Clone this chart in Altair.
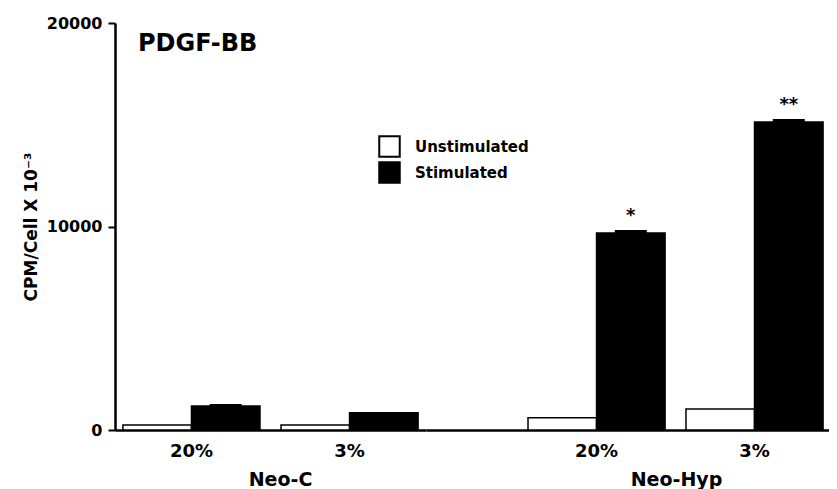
import altair as alt
import pandas as pd

# ---- data ----
groups = ["Neo-C", "Neo-C", "Neo-Hyp", "Neo-Hyp"]
oxygen = ["20%", "3%", "20%", "3%"]
unstimulated = [250, 250, 600, 1030]
stimulated = [1180, 850, 9680, 15130]
stimulated_err = [100, 0, 150, 150]
significance = ["", "", "*", "**"]
treatments = ["Unstimulated", "Stimulated"]
y_ticks = [0, 10000, 20000]
panel_title = "PDGF-BB"
y_title = "CPM/Cell X 10⁻³"

rows = []
for g, o, u, s, e, sig in zip(groups, oxygen, unstimulated, stimulated,
                              stimulated_err, significance):
    rows.append({"group": g, "oxygen": o, "treatment": "Unstimulated",
                 "value": u, "err": 0, "sig": ""})
    rows.append({"group": g, "oxygen": o, "treatment": "Stimulated",
                 "value": s, "err": e, "sig": sig})
df = pd.DataFrame(rows)

FONT = "DejaVu Sans"

color = alt.Color(
    "treatment:N",
    scale=alt.Scale(domain=treatments, range=["white", "black"]),
    legend=alt.Legend(
        title=None, orient="none", legendX=263, legendY=112,
        symbolType="square", symbolSize=420, symbolStrokeColor="black",
        symbolStrokeWidth=2, labelFont=FONT, labelFontSize=15,
        labelFontWeight="bold", labelColor="black", rowPadding=-6,
        labelOffset=14, padding=0,
    ),
)

yscale = alt.Scale(domain=[0, 20000], nice=False, zero=True)


def panel(group, width, pad_outer, align, title_x, show_y):
    d = df[df.group == group]
    xaxis = alt.Axis(
        title=group, titleX=title_x, labelAngle=0, ticks=False, tickSize=0,
        labelPadding=12, labelFont=FONT, labelFontSize=18,
        labelFontWeight="bold", labelColor="black", titleFont=FONT,
        titleFontSize=19, titleFontWeight="bold", titleColor="black",
        titlePadding=10, domainColor="black", domainWidth=2.5,
    )
    x = alt.X("oxygen:N",
              scale=alt.Scale(domain=["20%", "3%"], paddingInner=0.133,
                              paddingOuter=pad_outer, align=align),
              axis=xaxis)
    xoff = alt.XOffset("treatment:N",
                       scale=alt.Scale(domain=treatments, paddingInner=0,
                                       paddingOuter=0))
    if show_y:
        yaxis = alt.Axis(
            values=y_ticks, format="d", grid=False, tickSize=7, tickWidth=2,
            tickColor="black", domainColor="black", domainWidth=2.5,
            labelPadding=6, labelFont=FONT, labelFontSize=16,
            labelFontWeight="bold", labelColor="black", labelFlush=False,
            labelOverlap=False, title=y_title, titleFont=FONT,
            titleFontSize=17, titleFontWeight="bold", titleColor="black",
            titlePadding=6,
        )
    else:
        yaxis = None
    base = alt.Chart(d)
    bars = base.mark_bar(stroke="black", strokeWidth=1.5).encode(
        x=x, xOffset=xoff,
        y=alt.Y("value:Q", scale=yscale, axis=yaxis),
        color=color,
    )
    caps = base.transform_filter("datum.err > 0").transform_calculate(
        top="datum.value + datum.err"
    ).mark_bar(color="black", width=32).encode(
        x=x, xOffset=xoff, y=alt.Y("value:Q", scale=yscale), y2="top:Q"
    )
    stars = base.transform_filter("datum.sig != ''").transform_calculate(
        top="datum.value + datum.err"
    ).mark_text(dy=-14, fontSize=18, font=FONT, fontWeight="bold",
                baseline="middle", color="black").encode(
        x=x, xOffset=xoff, y=alt.Y("top:Q", scale=yscale), text="sig:N"
    )
    layers = [bars, caps, stars]
    if show_y:
        label = alt.Chart(pd.DataFrame({"t": [panel_title]})).mark_text(
            align="left", baseline="alphabetic", fontSize=24, font=FONT,
            fontWeight="bold", color="black"
        ).encode(x=alt.value(23), y=alt.value(28), text="t:N")
        layers.append(label)
    return alt.layer(*layers).properties(width=width, height=407)


left = panel("Neo-C", 311, 0.05, 0.5, 165, True)
right = panel("Neo-Hyp", 403, 0.342, 0.944, 250, False)

chart = alt.hconcat(left, right, spacing=0, bounds="flush").resolve_scale(
    color="shared"
).properties(
    padding={"left": 14, "top": 7, "right": 0, "bottom": 0}
).configure_view(stroke=None)

chart.save("out.html", embed_options={"renderer": "svg", "actions": False})
